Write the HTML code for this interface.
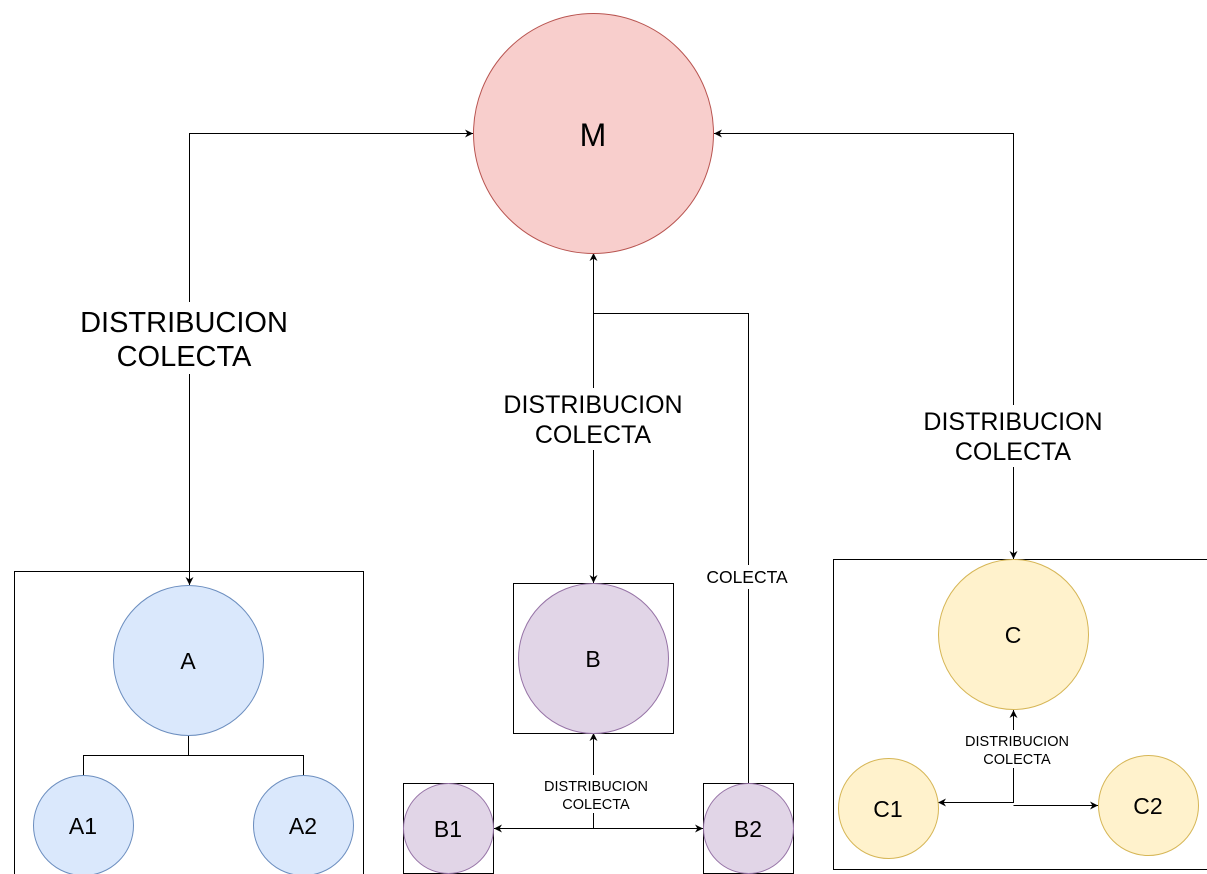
<!DOCTYPE html>
<html><head><meta charset="utf-8"><style>
html,body{margin:0;padding:0;background:#fff;}
svg{display:block;}
text{font-family:"Liberation Sans",sans-serif;fill:#000;text-anchor:middle;}
</style></head><body>
<svg width="1207" height="874" viewBox="0 0 1207 874" xmlns="http://www.w3.org/2000/svg">
<defs>
<marker id="ar" viewBox="0 0 10 10" refX="10" refY="5" markerWidth="8" markerHeight="8" orient="auto-start-reverse" markerUnits="userSpaceOnUse">
<path d="M0,0 L10,5 L0,10 L3,5 Z" fill="#000"/>
</marker>
</defs>
<g fill="none" stroke="#000" stroke-width="1">
<rect x="14.5" y="571.5" width="349" height="320"/>
<rect x="513.5" y="583.5" width="160" height="150"/>
<rect x="403.5" y="783.5" width="90" height="90"/>
<rect x="703.5" y="783.5" width="90" height="90"/>
<rect x="833.5" y="559.5" width="400" height="310"/>
<path d="M189.5,585 L189.5,133.5 L473,133.5" marker-start="url(#ar)" marker-end="url(#ar)"/>
<path d="M593.5,253 L593.5,583" marker-start="url(#ar)" marker-end="url(#ar)"/>
<path d="M593.5,313.5 L748.5,313.5 L748.5,783"/>
<path d="M714,133.5 L1013.5,133.5 L1013.5,559" marker-start="url(#ar)" marker-end="url(#ar)"/>
<path d="M188.5,735 L188.5,755.5 M83.5,775 L83.5,755.5 L303.5,755.5 L303.5,775"/>
<path d="M494,828.5 L703,828.5" marker-start="url(#ar)" marker-end="url(#ar)"/>
<path d="M593.5,828 L593.5,733" marker-end="url(#ar)"/>
<path d="M1013.5,710 L1013.5,803" marker-start="url(#ar)"/>
<path d="M1013.5,802.5 L938,802.5" marker-end="url(#ar)"/>
<path d="M1013.5,805.5 L1098,805.5" marker-end="url(#ar)"/>
</g>
<circle cx="593.5" cy="133.5" r="120" fill="#f8cecc" stroke="#b85450"/>
<circle cx="188.5" cy="660.5" r="75" fill="#dae8fc" stroke="#6c8ebf"/>
<circle cx="83.5" cy="825.5" r="50" fill="#dae8fc" stroke="#6c8ebf"/>
<circle cx="303.5" cy="825.5" r="50" fill="#dae8fc" stroke="#6c8ebf"/>
<circle cx="593.5" cy="658.5" r="75" fill="#e1d5e7" stroke="#9673a6"/>
<circle cx="448.5" cy="828.5" r="45" fill="#e1d5e7" stroke="#9673a6"/>
<circle cx="748.5" cy="828.5" r="45" fill="#e1d5e7" stroke="#9673a6"/>
<circle cx="1013.5" cy="634.5" r="75" fill="#fff2cc" stroke="#d6b656"/>
<circle cx="888.5" cy="808.5" r="50" fill="#fff2cc" stroke="#d6b656"/>
<circle cx="1148.5" cy="805.5" r="50" fill="#fff2cc" stroke="#d6b656"/>
<g fill="#fff">
<rect x="76" y="302" width="218" height="72"/>
<rect x="500" y="388" width="188" height="62"/>
<rect x="919" y="405" width="188" height="62"/>
<rect x="701" y="565" width="94" height="24"/>
<rect x="539" y="775" width="116" height="38"/>
<rect x="959" y="730" width="116" height="38"/>
</g>
<text x="593" y="146" font-size="32">M</text>
<text x="188" y="669" font-size="23">A</text>
<text x="83" y="834" font-size="23">A1</text>
<text x="303" y="834" font-size="23">A2</text>
<text x="593" y="667" font-size="23">B</text>
<text x="448" y="837" font-size="23">B1</text>
<text x="748" y="837" font-size="23">B2</text>
<text x="1013" y="643" font-size="23">C</text>
<text x="888" y="817" font-size="23">C1</text>
<text x="1148" y="814" font-size="23">C2</text>
<text x="184" y="332" font-size="29">DISTRIBUCION</text>
<text x="184" y="366" font-size="29">COLECTA</text>
<text x="593" y="413" font-size="25">DISTRIBUCION</text>
<text x="593" y="443" font-size="25">COLECTA</text>
<text x="1013" y="430" font-size="25">DISTRIBUCION</text>
<text x="1013" y="460" font-size="25">COLECTA</text>
<text x="747" y="583" font-size="17.5">COLECTA</text>
<text x="596" y="791" font-size="14.5">DISTRIBUCION</text>
<text x="596" y="809" font-size="14.5">COLECTA</text>
<text x="1017" y="746" font-size="14.5">DISTRIBUCION</text>
<text x="1017" y="764" font-size="14.5">COLECTA</text>
</svg>
</body></html>
